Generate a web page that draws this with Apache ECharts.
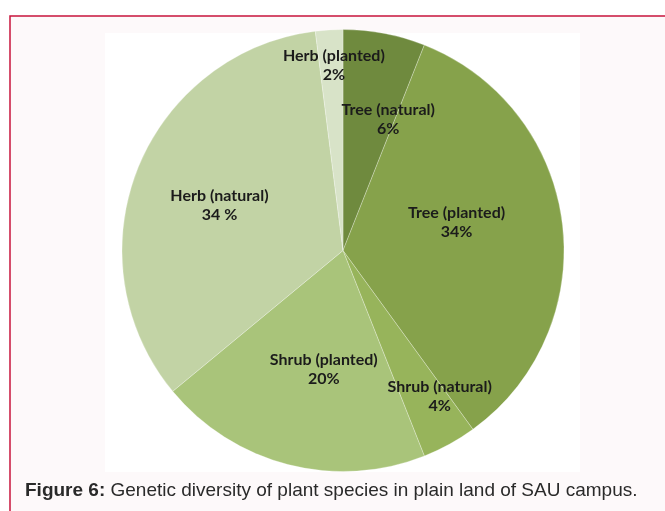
<!DOCTYPE html>
<html>
<head>
<meta charset="utf-8">
<script src="https://cdn.jsdelivr.net/npm/echarts@6/dist/echarts.min.js"></script>
<style>
html,body{margin:0;padding:0;background:#ffffff;}
#chart{width:665px;height:511px;}
</style>
</head>
<body>
<div id="chart"></div>
<script>
// ---- data ----
var categories = ['Tree (natural)', 'Tree (planted)', 'Shrub (natural)', 'Shrub (planted)', 'Herb (natural)', 'Herb (planted)'];
var values = [6, 34, 4, 20, 34, 2];
var percentLabels = ['6%', '34%', '4%', '20%', '34 %', '2%'];

// ---- styles ----
var sliceColors = ['#6f8a3e', '#86a24b', '#97b45b', '#a9c47a', '#c2d3a5', '#d8e3c8'];
var labelOffsets = [[24, -20], [1, -14], [42, 46], [9, 9], [-18, -3], [-2, -72]];

var chart = echarts.init(document.getElementById('chart'), null, {renderer: 'canvas'});

var data = categories.map(function (name, i) {
  return {
    name: name,
    value: values[i],
    itemStyle: {color: sliceColors[i]},
    label: {offset: labelOffsets[i]}
  };
});

var option = {
  backgroundColor: '#ffffff',
  animation: false,
  graphic: [
    {
      type: 'rect',
      z: -10,
      shape: {x: 10, y: 16, width: 700, height: 520},
      style: {fill: '#fdf9fa', stroke: '#c8143c', lineWidth: 1.5}
    },
    {
      type: 'rect',
      z: -9,
      shape: {x: 105, y: 33, width: 475, height: 439},
      style: {fill: '#ffffff'}
    }
  ],
  title: {
    left: 20,
    top: 476,
    text: '{b|Figure 6:} Genetic diversity of plant species in plain land of SAU campus.',
    textStyle: {
      fontFamily: 'Liberation Sans, Arial, sans-serif',
      fontSize: 19,
      fontWeight: 'normal',
      color: '#2a2a2a',
      rich: {
        b: {fontFamily: 'Liberation Sans, Arial, sans-serif', fontSize: 19, fontWeight: 'bold', color: '#2a2a2a'}
      }
    }
  },
  series: [{
    type: 'pie',
    center: [343, 250.5],
    radius: ['0%', 221],
    startAngle: 90,
    clockwise: true,
    avoidLabelOverlap: false,
    silent: true,
    itemStyle: {borderColor: 'rgba(255,255,255,0.45)', borderWidth: 0.6},
    label: {
      show: true,
      position: 'inside',
      fontFamily: 'Lato, Carlito, sans-serif',
      fontWeight: 'bold',
      fontSize: 16,
      lineHeight: 19,
      color: '#1b1b1b',
      align: 'center',
      formatter: function (p) {
        return p.name + '\n' + percentLabels[p.dataIndex];
      }
    },
    labelLine: {show: false},
    data: data
  }]
};

chart.setOption(option);
</script>
</body>
</html>
